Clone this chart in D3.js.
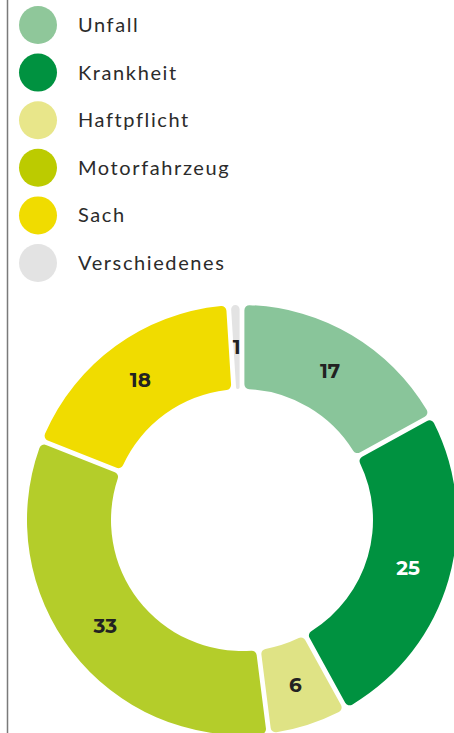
<!DOCTYPE html>
<html>
<head>
<meta charset="utf-8">
<script src="https://cdn.jsdelivr.net/npm/d3@7"></script>
<style>
  html, body { margin: 0; padding: 0; background: #fff; overflow: hidden; }
</style>
</head>
<body>
<div id="chart"></div>
<script>
/* DATA */
const categories = ["Unfall", "Krankheit", "Haftpflicht", "Motorfahrzeug", "Sach", "Verschiedenes"];
const values = [17, 25, 6, 33, 18, 1];
const sliceColors = ["#89c59a", "#009240", "#dfe385", "#b4cd2a", "#f0dc00", "#e3e3e3"];
const legendColors = ["#8fc79a", "#009240", "#e8e68a", "#bccb00", "#f0dc00", "#e3e3e3"];
const labelColors = ["#222", "#fff", "#222", "#222", "#222", "#222"];

/* CONSTANTS */
const width = 454,
  height = 733,
  cx = 242,
  cy = 520,
  outerR = 215,
  innerR = 131;

const svg = d3.select("#chart")
  .append("svg")
  .attr("width", width)
  .attr("height", height);

// left rule
svg.append("line")
  .attr("x1", 7.5).attr("x2", 7.5)
  .attr("y1", 0).attr("y2", height)
  .attr("stroke", "#7a7a7a")
  .attr("stroke-width", 1.5);

// legend
const legendY = d3.scalePoint()
  .domain(categories)
  .range([25, 263]);

const legend = svg.append("g")
  .selectAll("g")
  .data(categories)
  .join("g")
  .attr("transform", d => `translate(38, ${legendY(d)})`);

legend.append("circle")
  .attr("r", 19)
  .attr("fill", (d, i) => legendColors[i]);

legend.append("text")
  .attr("x", 40)
  .attr("dy", "0.35em")
  .attr("font-family", "Lato, sans-serif")
  .attr("font-size", 20)
  .attr("letter-spacing", "1.6px")
  .attr("fill", "#2b2b2b")
  .text(d => d);

// donut
const pie = d3.pie()
  .sort(null)
  .value(d => d.value);

const arcs = pie(categories.map((c, i) => ({ name: c, value: values[i], i })));

const arcGen = d3.arc()
  .innerRadius(innerR)
  .outerRadius(outerR)
  .cornerRadius(5)
  .padAngle(0.019);

const labelArc = d3.arc()
  .innerRadius((innerR + outerR) / 2)
  .outerRadius((innerR + outerR) / 2);

const donut = svg.append("g")
  .attr("transform", `translate(${cx}, ${cy})`);

donut.selectAll("path")
  .data(arcs)
  .join("path")
  .attr("d", arcGen)
  .attr("fill", d => sliceColors[d.data.i]);

donut.selectAll("text")
  .data(arcs)
  .join("text")
  .attr("transform", d => `translate(${labelArc.centroid(d)})`)
  .attr("text-anchor", "middle")
  .attr("dy", "0.35em")
  .attr("font-family", "Montserrat, 'Open Sans', sans-serif")
  .attr("font-weight", "bold")
  .attr("font-size", 20)
  .attr("fill", d => labelColors[d.data.i])
  .text(d => d.data.value);
</script>
</body>
</html>
